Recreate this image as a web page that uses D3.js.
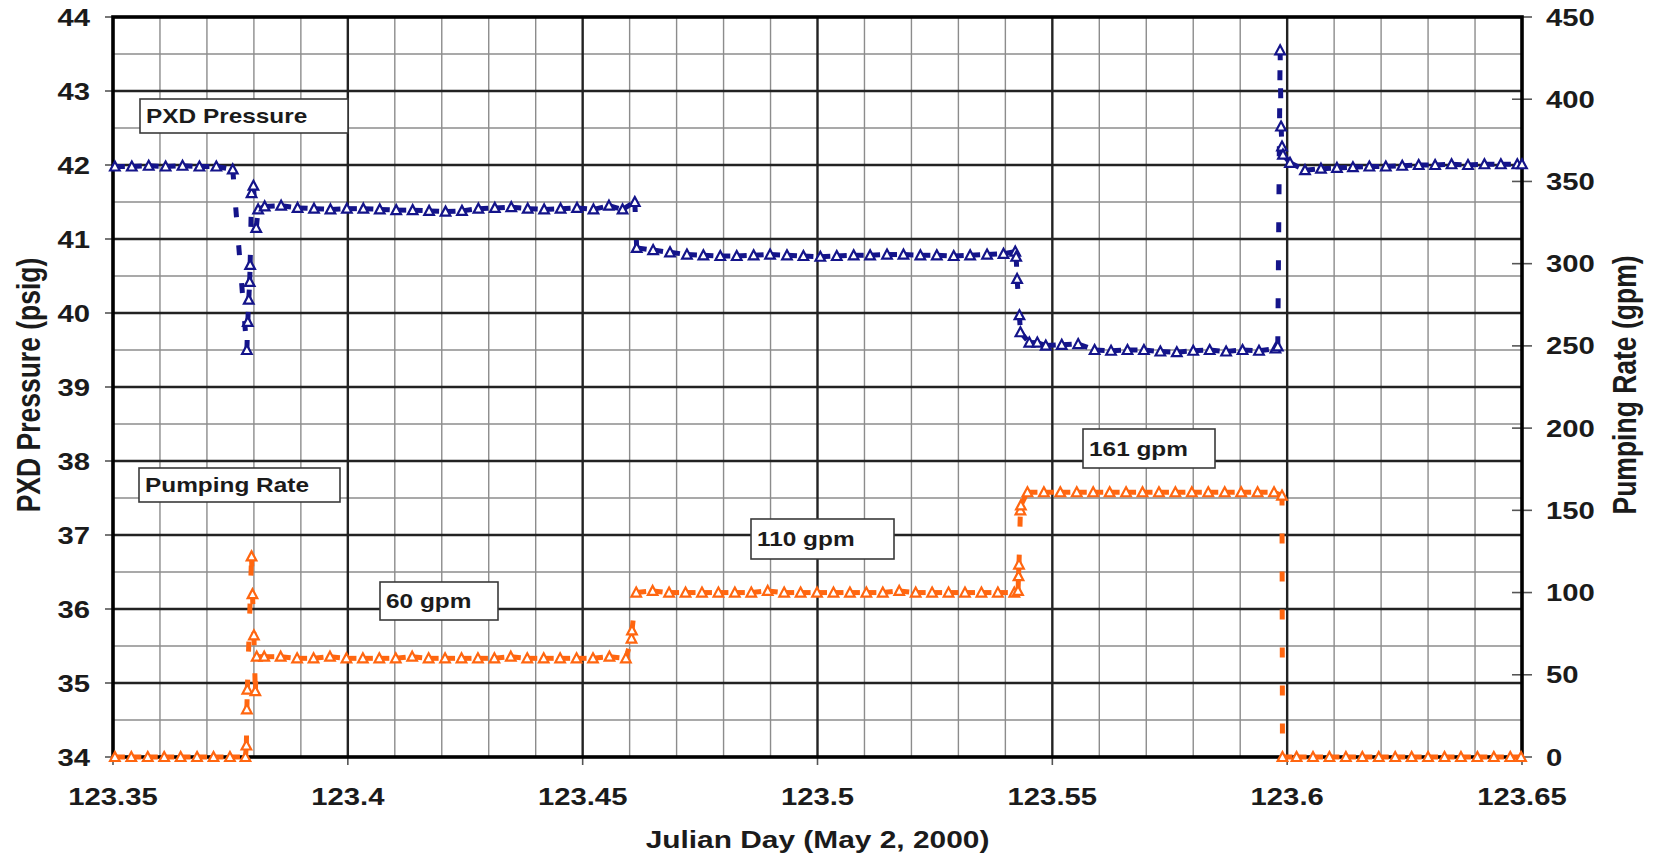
<!DOCTYPE html>
<html>
<head>
<meta charset="utf-8">
<script src="https://cdn.jsdelivr.net/npm/d3@7"></script>
<style>
  html, body { margin: 0; padding: 0; background: #ffffff; }
  svg { display: block; font-family: "Liberation Sans", Arial, sans-serif; font-weight: bold; }
</style>
</head>
<body>
<svg id="chart" width="1653" height="859"></svg>
<script>
// ---- axis ticks ----
const dayTicks = [123.35, 123.4, 123.45, 123.5, 123.55, 123.6, 123.65];
const dayTickLabels = ["123.35", "123.4", "123.45", "123.5", "123.55", "123.6", "123.65"];
const psigTicks = [34, 35, 36, 37, 38, 39, 40, 41, 42, 43, 44];
const gpmTicks = [0, 50, 100, 150, 200, 250, 300, 350, 400, 450];

// ---- PXD pressure record (Julian day, psig) ----
const pxdDay = [
  123.3504, 123.3540, 123.3576, 123.3612, 123.3648, 123.3684, 123.3720, 123.3755,
  123.3785, 123.3787, 123.3789, 123.3791, 123.3792, 123.3795, 123.3799, 123.3805, 123.3809,
  123.3823, 123.3858, 123.3893, 123.3928, 123.3963, 123.3998, 123.4033, 123.4068, 123.4103,
  123.4138, 123.4173, 123.4208, 123.4243, 123.4278, 123.4313, 123.4348, 123.4383, 123.4418,
  123.4453, 123.4488, 123.4523, 123.4556, 123.4585, 123.4611,
  123.4615, 123.4650, 123.4686, 123.4722, 123.4757, 123.4793, 123.4828, 123.4864, 123.4899,
  123.4935, 123.4970, 123.5006, 123.5041, 123.5077, 123.5112, 123.5148, 123.5183, 123.5219,
  123.5254, 123.5290, 123.5325, 123.5361, 123.5396, 123.5421,
  123.5423, 123.5425, 123.5430, 123.5432, 123.5451,
  123.5468, 123.5486, 123.5520, 123.5555, 123.5590, 123.5625, 123.5660, 123.5695, 123.5730,
  123.5765, 123.5800, 123.5835, 123.5870, 123.5905, 123.5940, 123.5975,
  123.5980, 123.5985, 123.5987, 123.5989, 123.5991,
  123.6006, 123.6038, 123.6072, 123.6106, 123.6140, 123.6175, 123.6210, 123.6245, 123.6280,
  123.6315, 123.6350, 123.6385, 123.6420, 123.6455, 123.6490, 123.6500
];
const pxdPsig = [
  41.98, 41.98, 41.99, 41.98, 41.99, 41.98, 41.98, 41.94,
  39.50, 39.88, 40.18, 40.42, 40.65, 41.62, 41.72, 41.15, 41.40,
  41.44, 41.45, 41.42, 41.41, 41.40, 41.41, 41.41, 41.40, 41.39,
  41.39, 41.38, 41.37, 41.38, 41.41, 41.42, 41.43, 41.41, 41.40,
  41.41, 41.42, 41.40, 41.45, 41.40, 41.50,
  40.88, 40.85, 40.82, 40.79, 40.78, 40.77, 40.77, 40.78, 40.79,
  40.78, 40.77, 40.76, 40.77, 40.78, 40.78, 40.79, 40.79, 40.78,
  40.78, 40.77, 40.78, 40.79, 40.80, 40.83,
  40.76, 40.46, 39.97, 39.74, 39.60,
  39.60, 39.56, 39.57, 39.58, 39.50, 39.49, 39.50, 39.50, 39.48,
  39.47, 39.49, 39.50, 39.48, 39.50, 39.49, 39.52,
  39.55, 43.55, 42.52, 42.25, 42.14,
  42.03, 41.93, 41.95, 41.96, 41.97, 41.98, 41.98, 41.99, 42.00,
  42.00, 42.01, 42.00, 42.01, 42.01, 42.01, 42.01
];

// ---- pumping rate record (Julian day, gpm) ----
const rateDay = [
  123.3504, 123.3539, 123.3574, 123.3609, 123.3644, 123.3679, 123.3714, 123.3749, 123.3782,
  123.3784, 123.3785, 123.3786, 123.3795, 123.3797, 123.3800, 123.3803, 123.3806,
  123.3822, 123.3857, 123.3892, 123.3927, 123.3962, 123.3997, 123.4032, 123.4067, 123.4102,
  123.4137, 123.4172, 123.4207, 123.4242, 123.4277, 123.4312, 123.4347, 123.4382, 123.4417,
  123.4452, 123.4487, 123.4522, 123.4557, 123.4592,
  123.4604, 123.4605,
  123.4614, 123.4649, 123.4684, 123.4719, 123.4754, 123.4789, 123.4824, 123.4859, 123.4894,
  123.4929, 123.4964, 123.4999, 123.5034, 123.5069, 123.5104, 123.5139, 123.5174, 123.5209,
  123.5244, 123.5279, 123.5314, 123.5349, 123.5384, 123.5419,
  123.5427, 123.5428, 123.5429, 123.5432, 123.5433,
  123.5447, 123.5482, 123.5517, 123.5552, 123.5587, 123.5622, 123.5657, 123.5692, 123.5727,
  123.5762, 123.5797, 123.5832, 123.5867, 123.5902, 123.5937, 123.5972, 123.5989,
  123.5990, 123.6020, 123.6055, 123.6090, 123.6125, 123.6160, 123.6195, 123.6230, 123.6265,
  123.6300, 123.6335, 123.6370, 123.6405, 123.6440, 123.6475, 123.6498
];
const rateGpm = [
  0, 0, 0, 0, 0, 0, 0, 0, 0,
  7, 29, 41, 122, 99, 74, 40, 61,
  61, 61, 60, 60, 61, 60, 60, 60, 60,
  61, 60, 60, 60, 60, 60, 61, 60, 60,
  60, 60, 60, 61, 60,
  72, 77,
  100, 101, 100, 100, 100, 100, 100, 100, 101,
  100, 100, 100, 100, 100, 100, 100, 101, 100,
  100, 100, 100, 100, 100, 100,
  101, 110, 117, 150, 153,
  161, 161, 161, 161, 161, 161, 161, 161, 161,
  161, 161, 161, 161, 161, 161, 161, 159,
  0, 0, 0, 0, 0, 0, 0, 0, 0,
  0, 0, 0, 0, 0, 0, 0
];

// ---- text boxes ----
const seriesNames = ["PXD Pressure", "Pumping Rate"];
const rateNotes = ["60 gpm", "110 gpm", "161 gpm"];

// ---- layout ----
const W = 1653, H = 859;
const plot = { left: 113, right: 1522, top: 17, bottom: 757 };
const SX = 1.22;                 // horizontal glyph stretch of all lettering
const BLUE = "#14148a", ORANGE = "#ff6610";
const INK = "#1b1b1b";

const svg = d3.select("#chart");

const x = d3.scaleLinear().domain([123.35, 123.65]).range([plot.left, plot.right]);
const yP = d3.scaleLinear().domain([34, 44]).range([plot.bottom, plot.top]);
const yR = d3.scaleLinear().domain([0, 450]).range([plot.bottom, plot.top]);

function stretchedText(g, px, py, str, size, anchor, rotate) {
  return g.append("text")
    .attr("transform", `translate(${px},${py}) scale(${SX},1)` + (rotate ? ` rotate(${rotate})` : ""))
    .attr("text-anchor", anchor)
    .attr("font-size", size)
    .attr("fill", INK)
    .text(str);
}

// ---- grid ----
const grid = svg.append("g");
const minorDays = d3.range(1, 30).map(k => 123.35 + k * 0.01).filter((d, k) => (k + 1) % 5 !== 0);
const minorPsig = d3.range(34.5, 44, 1);

grid.selectAll(".vminor").data(minorDays).join("line")
  .attr("x1", d => x(d)).attr("x2", d => x(d))
  .attr("y1", plot.top).attr("y2", plot.bottom)
  .attr("stroke", "#8c8c8c").attr("stroke-width", 1.4);
grid.selectAll(".hminor").data(minorPsig).join("line")
  .attr("x1", plot.left).attr("x2", plot.right)
  .attr("y1", d => yP(d)).attr("y2", d => yP(d))
  .attr("stroke", "#8c8c8c").attr("stroke-width", 1.4);
grid.selectAll(".vmajor").data(dayTicks.slice(1, -1)).join("line")
  .attr("x1", d => x(d)).attr("x2", d => x(d))
  .attr("y1", plot.top).attr("y2", plot.bottom)
  .attr("stroke", "#222").attr("stroke-width", 2.4);
grid.selectAll(".hmajor").data(psigTicks.slice(1, -1)).join("line")
  .attr("x1", plot.left).attr("x2", plot.right)
  .attr("y1", d => yP(d)).attr("y2", d => yP(d))
  .attr("stroke", "#222").attr("stroke-width", 2.4);

// ---- tick marks ----
const ticks = svg.append("g").attr("stroke", "#555").attr("stroke-width", 1.6);
ticks.selectAll(".lt").data(psigTicks).join("line")
  .attr("x1", plot.left - 8).attr("x2", plot.left)
  .attr("y1", d => yP(d)).attr("y2", d => yP(d));
ticks.selectAll(".rt").data(gpmTicks).join("line")
  .attr("x1", plot.right - 10).attr("x2", plot.right + 10)
  .attr("y1", d => yR(d)).attr("y2", d => yR(d));
ticks.selectAll(".bt").data(dayTicks).join("line")
  .attr("x1", d => x(d)).attr("x2", d => x(d))
  .attr("y1", plot.bottom).attr("y2", plot.bottom + 8);

// ---- frame ----
svg.append("rect")
  .attr("x", plot.left).attr("y", plot.top)
  .attr("width", plot.right - plot.left).attr("height", plot.bottom - plot.top)
  .attr("fill", "none").attr("stroke", "#000").attr("stroke-width", 3.6);

// ---- tick labels ----
const labels = svg.append("g");
psigTicks.forEach(v => stretchedText(labels, 90, yP(v) + 8.5, String(v), 24, "end"));
gpmTicks.forEach(v => stretchedText(labels, 1546, yR(v) + 8.5, String(v), 24, "start"));
dayTicks.forEach((v, i) => stretchedText(labels, x(v), 805, dayTickLabels[i], 24, "middle"));

// ---- axis titles ----
stretchedText(labels, 40, 385, "PXD Pressure (psig)", 26.5, "middle", -90);
stretchedText(labels, 1636, 385, "Pumping Rate (gpm)", 26.5, "middle", -90);
stretchedText(labels, (plot.left + plot.right) / 2, 848, "Julian Day (May 2, 2000)", 24.5, "middle");

// ---- text boxes ----
const boxes = [
  { text: seriesNames[0], x: 140, y: 99, w: 208, h: 34 },
  { text: seriesNames[1], x: 139, y: 468, w: 201, h: 34 },
  { text: rateNotes[0], x: 380, y: 582, w: 118, h: 38 },
  { text: rateNotes[1], x: 751, y: 519, w: 143, h: 40 },
  { text: rateNotes[2], x: 1083, y: 429, w: 132, h: 39 }
];
const boxG = svg.append("g");
boxes.forEach(b => {
  boxG.append("rect")
    .attr("x", b.x).attr("y", b.y).attr("width", b.w).attr("height", b.h)
    .attr("fill", "#fff").attr("stroke", "#3a3a3a").attr("stroke-width", 1.6);
  stretchedText(boxG, b.x + 6, b.y + b.h / 2 + 7, b.text, 20, "start");
});

// ---- series ----
const tri = "M0,-5L4.8,4L-4.8,4Z";

function drawSeries(days, vals, yScale, color) {
  const pts = days.map((d, i) => [x(d), yScale(vals[i])]);
  const g = svg.append("g");
  // dashed connector, pattern restarting on every segment
  g.selectAll("line").data(d3.pairs(pts)).join("line")
    .attr("x1", d => d[0][0]).attr("y1", d => d[0][1])
    .attr("x2", d => d[1][0]).attr("y2", d => d[1][1])
    .attr("stroke", color).attr("stroke-width", 5)
    .attr("stroke-dasharray", "10 28");
  g.selectAll("path").data(pts).join("path")
    .attr("d", tri)
    .attr("transform", d => `translate(${d[0]},${d[1]})`)
    .attr("fill", "#fff").attr("stroke", color).attr("stroke-width", 2.2);
}

drawSeries(rateDay, rateGpm, yR, ORANGE);
drawSeries(pxdDay, pxdPsig, yP, BLUE);
</script>
</body>
</html>
